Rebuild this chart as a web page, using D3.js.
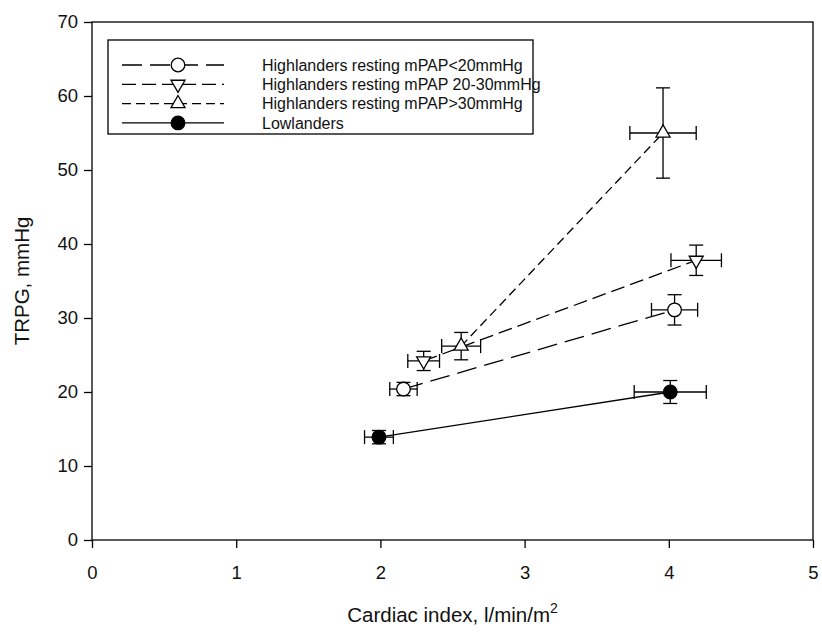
<!DOCTYPE html>
<html>
<head>
<meta charset="utf-8">
<script src="https://cdn.jsdelivr.net/npm/d3@7"></script>
<style>
  body { margin: 0; background: #fff; }
  svg { display: block; font-family: Arial, "Liberation Sans", sans-serif; }
</style>
</head>
<body>
<svg id="chart" width="822" height="640"></svg>
<script>
// groups, rest -> exercise (two points each)
const groups = [
  'Highlanders resting mPAP<20mmHg',
  'Highlanders resting mPAP 20-30mmHg',
  'Highlanders resting mPAP>30mmHg',
  'Lowlanders'
];
const ci = [[2.16, 4.04], [2.30, 4.19], [2.56, 3.96], [1.99, 4.01]];
const ciErr = [[0.095, 0.16], [0.11, 0.175], [0.135, 0.23], [0.10, 0.25]];
const trpg = [[20.4, 31.1], [24.2, 37.8], [26.2, 55.0], [13.9, 20.0]];
const trpgErr = [[0.9, 2.05], [1.3, 2.05], [1.85, 6.1], [0.9, 1.55]];
const xTicks = [0, 1, 2, 3, 4, 5];
const yTicks = [0, 10, 20, 30, 40, 50, 60, 70];

const markers = ['circle', 'down', 'up', 'dot'];
const dashes = ['20,8', '14,6', '9,5', null];

const style = {
  width: 822, height: 640,
  margin: { top: 22, right: 9, bottom: 100, left: 92 },
  tick: 8, cap: 14, stroke: '#000'
};

const svg = d3.select('#chart');
const x = d3.scaleLinear().domain([0, 5])
  .range([style.margin.left, style.width - style.margin.right]);
const y = d3.scaleLinear().domain([0, 70])
  .range([style.height - style.margin.bottom, style.margin.top]);

// frame
svg.append('rect')
  .attr('x', x(0)).attr('y', y(70))
  .attr('width', x(5) - x(0)).attr('height', y(0) - y(70))
  .attr('fill', 'none').attr('stroke', style.stroke).attr('stroke-width', 1.3);

// axes
const xAxis = svg.append('g')
  .attr('transform', `translate(0,${y(0)})`)
  .call(d3.axisBottom(x).tickValues(xTicks).tickSize(style.tick).tickPadding(18).tickFormat(d3.format('d')));
const yAxis = svg.append('g')
  .attr('transform', `translate(${x(0)},0)`)
  .call(d3.axisLeft(y).tickValues(yTicks).tickSize(style.tick).tickPadding(6).tickFormat(d3.format('d')));
[xAxis, yAxis].forEach((g) => {
  g.select('.domain').remove();
  g.selectAll('line').attr('stroke', style.stroke).attr('stroke-width', 1.3);
  g.selectAll('text').attr('fill', '#111').style('font-size', '18.5px').style('font-family', 'Arial, "Liberation Sans", sans-serif');
});

// axis titles
svg.append('text')
  .attr('x', (x(0) + x(5)) / 2).attr('y', 622)
  .attr('text-anchor', 'middle').style('font-size', '20.5px').attr('fill', '#111')
  .call((t) => {
    t.append('tspan').text('Cardiac index, l/min/m');
    t.append('tspan').attr('dy', -9).style('font-size', '14px').text('2');
  });
svg.append('text')
  .attr('transform', `translate(29,${(y(0) + y(70)) / 2}) rotate(-90)`)
  .attr('text-anchor', 'middle').style('font-size', '20.5px').attr('fill', '#111')
  .text('TRPG, mmHg');

const drawMarker = (g, type, cx, cy) => {
  if (type === 'circle' || type === 'dot') {
    g.append('circle').attr('cx', cx).attr('cy', cy).attr('r', 6.8)
      .attr('fill', type === 'dot' ? '#000' : '#fff')
      .attr('stroke', '#000').attr('stroke-width', 1.3);
  } else {
    const s = d3.symbol().type(d3.symbolTriangle).size(85);
    g.append('path').attr('d', s())
      .attr('transform', `translate(${cx},${cy})${type === 'down' ? ' rotate(180)' : ''}`)
      .attr('fill', '#fff').attr('stroke', '#000').attr('stroke-width', 1.3);
  }
};

// lines
const line = d3.line().x((d) => x(d[0])).y((d) => y(d[1]));
groups.forEach((name, i) => {
  const pts = ci[i].map((v, j) => [v, trpg[i][j]]);
  svg.append('path').datum(pts).attr('d', line)
    .attr('fill', 'none').attr('stroke', '#000').attr('stroke-width', 1.3)
    .attr('stroke-dasharray', dashes[i]);
});

// error bars
const errG = svg.append('g').attr('stroke', '#000').attr('stroke-width', 1.3);
groups.forEach((name, i) => {
  ci[i].forEach((v, j) => {
    const cx = x(v), cy = y(trpg[i][j]);
    const x0 = x(v - ciErr[i][j]), x1 = x(v + ciErr[i][j]);
    const y0 = y(trpg[i][j] - trpgErr[i][j]), y1 = y(trpg[i][j] + trpgErr[i][j]);
    const c = style.cap / 2;
    errG.append('line').attr('x1', x0).attr('x2', x1).attr('y1', cy).attr('y2', cy);
    errG.append('line').attr('x1', x0).attr('x2', x0).attr('y1', cy - c).attr('y2', cy + c);
    errG.append('line').attr('x1', x1).attr('x2', x1).attr('y1', cy - c).attr('y2', cy + c);
    errG.append('line').attr('x1', cx).attr('x2', cx).attr('y1', y0).attr('y2', y1);
    errG.append('line').attr('x1', cx - c).attr('x2', cx + c).attr('y1', y0).attr('y2', y0);
    errG.append('line').attr('x1', cx - c).attr('x2', cx + c).attr('y1', y1).attr('y2', y1);
  });
});

// markers
const markG = svg.append('g');
groups.forEach((name, i) => {
  ci[i].forEach((v, j) => drawMarker(markG, markers[i], x(v), y(trpg[i][j])));
});

// legend
const legend = svg.append('g');
legend.append('rect')
  .attr('x', 108).attr('y', 40).attr('width', 425).attr('height', 94)
  .attr('fill', '#fff').attr('stroke', '#000').attr('stroke-width', 1.3);
groups.forEach((name, i) => {
  const ly = 65 + i * 19.3;
  legend.append('line').attr('x1', 122).attr('x2', 224).attr('y1', ly).attr('y2', ly)
    .attr('stroke', '#000').attr('stroke-width', 1.3).attr('stroke-dasharray', dashes[i]);
  drawMarker(legend, markers[i], 178, ly);
  legend.append('text').attr('x', 262).attr('y', ly).attr('dy', '0.35em')
    .style('font-size', '16px').attr('fill', '#111').text(name);
});
</script>
</body>
</html>
